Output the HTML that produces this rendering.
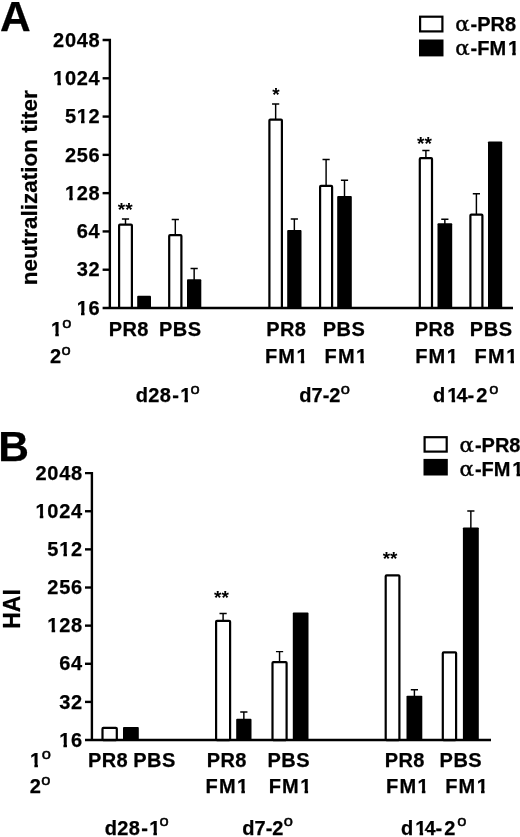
<!DOCTYPE html>
<html><head><meta charset="utf-8"><title>Figure</title>
<style>html,body{margin:0;padding:0;background:#fff}svg{display:block}</style>
</head><body>
<svg width="520" height="837" viewBox="0 0 520 837">
<defs><filter id="soft" x="0" y="0" width="520" height="837" filterUnits="userSpaceOnUse" color-interpolation-filters="sRGB"><feGaussianBlur stdDeviation="0.55"/></filter></defs>
<rect width="520" height="837" fill="#fff"/>
<g filter="url(#soft)">
<rect width="520" height="837" fill="#fff"/>
<text x="0" y="30.8" font-size="42.5" font-family="Liberation Sans, Arial, Helvetica, sans-serif" font-weight="bold" stroke="#000" stroke-width="0.25" stroke-linejoin="round">A</text>
<text transform="translate(36.5 187.8) rotate(-90)" font-size="22.5" text-anchor="middle" font-family="Liberation Sans, Arial, Helvetica, sans-serif" font-weight="bold" stroke="#000" stroke-width="0.25" stroke-linejoin="round">neutralization titer</text>
<text x="53.11" y="46.7" font-size="20" dx="0 0.7 0.7 0.7" font-family="Liberation Sans, Arial, Helvetica, sans-serif" font-weight="bold" stroke="#000" stroke-width="0.25" stroke-linejoin="round">2048</text>
<text x="53.11" y="84.99" font-size="20" dx="0 0.7 0.7 0.7" font-family="Liberation Sans, Arial, Helvetica, sans-serif" font-weight="bold" stroke="#000" stroke-width="0.25" stroke-linejoin="round">1024</text>
<rect x="52.61" y="81.25" width="4.77" height="6.04" fill="#fff"/>
<rect x="60.92" y="81.25" width="3.71" height="6.04" fill="#fff"/>
<text x="64.93" y="123.27" font-size="20" dx="0 0.7 0.7" font-family="Liberation Sans, Arial, Helvetica, sans-serif" font-weight="bold" stroke="#000" stroke-width="0.25" stroke-linejoin="round">512</text>
<rect x="76.25" y="119.53" width="4.77" height="6.04" fill="#fff"/>
<rect x="84.57" y="119.53" width="3.71" height="6.04" fill="#fff"/>
<text x="64.93" y="161.56" font-size="20" dx="0 0.7 0.7" font-family="Liberation Sans, Arial, Helvetica, sans-serif" font-weight="bold" stroke="#000" stroke-width="0.25" stroke-linejoin="round">256</text>
<text x="64.93" y="199.84" font-size="20" dx="0 0.7 0.7" font-family="Liberation Sans, Arial, Helvetica, sans-serif" font-weight="bold" stroke="#000" stroke-width="0.25" stroke-linejoin="round">128</text>
<rect x="64.43" y="196.10" width="4.77" height="6.04" fill="#fff"/>
<rect x="72.74" y="196.10" width="3.71" height="6.04" fill="#fff"/>
<text x="76.75" y="238.13" font-size="20" dx="0 0.7" font-family="Liberation Sans, Arial, Helvetica, sans-serif" font-weight="bold" stroke="#000" stroke-width="0.25" stroke-linejoin="round">64</text>
<text x="76.75" y="276.41" font-size="20" dx="0 0.7" font-family="Liberation Sans, Arial, Helvetica, sans-serif" font-weight="bold" stroke="#000" stroke-width="0.25" stroke-linejoin="round">32</text>
<text x="76.75" y="314.7" font-size="20" dx="0 0.7" font-family="Liberation Sans, Arial, Helvetica, sans-serif" font-weight="bold" stroke="#000" stroke-width="0.25" stroke-linejoin="round">16</text>
<rect x="76.25" y="310.96" width="4.77" height="6.04" fill="#fff"/>
<rect x="84.57" y="310.96" width="3.71" height="6.04" fill="#fff"/>
<path d="M125.5 224.5V219M121.9 219H129.1" stroke="#000" stroke-width="1.45" fill="none"/>
<rect x="119.1" y="224.6" width="12.80" height="83.40" rx="0.9" fill="#fff" stroke="#000" stroke-width="2.2" stroke-linejoin="round"/>
<rect x="137.2" y="295.8" width="13.80" height="12.20" rx="0.9" fill="#000"/>
<path d="M175.3 235V219.5M171.70000000000002 219.5H178.9" stroke="#000" stroke-width="1.45" fill="none"/>
<rect x="169.2" y="235.1" width="12.20" height="72.90" rx="0.9" fill="#fff" stroke="#000" stroke-width="2.2" stroke-linejoin="round"/>
<path d="M194.15 280.3V268.4M190.55 268.4H197.75" stroke="#000" stroke-width="1.45" fill="none"/>
<rect x="187" y="279.3" width="14.30" height="28.70" rx="0.9" fill="#000"/>
<path d="M275.65 119.6V103.9M272.04999999999995 103.9H279.25" stroke="#000" stroke-width="1.45" fill="none"/>
<rect x="269.40000000000003" y="119.69999999999999" width="12.50" height="188.30" rx="0.9" fill="#fff" stroke="#000" stroke-width="2.2" stroke-linejoin="round"/>
<path d="M294.35 231V219M290.75 219H297.95000000000005" stroke="#000" stroke-width="1.45" fill="none"/>
<rect x="287.2" y="230" width="14.30" height="78.00" rx="0.9" fill="#000"/>
<path d="M326.1 185.8V159.5M322.5 159.5H329.70000000000005" stroke="#000" stroke-width="1.45" fill="none"/>
<rect x="320.1" y="185.9" width="12.00" height="122.10" rx="0.9" fill="#fff" stroke="#000" stroke-width="2.2" stroke-linejoin="round"/>
<path d="M344.5 197V180.3M340.9 180.3H348.1" stroke="#000" stroke-width="1.45" fill="none"/>
<rect x="337.2" y="196" width="14.60" height="112.00" rx="0.9" fill="#000"/>
<path d="M425.9 158.0V150.4M422.29999999999995 150.4H429.5" stroke="#000" stroke-width="1.45" fill="none"/>
<rect x="419.8" y="158.1" width="12.20" height="149.90" rx="0.9" fill="#fff" stroke="#000" stroke-width="2.2" stroke-linejoin="round"/>
<path d="M444.85 224.3V219.2M441.25 219.2H448.45000000000005" stroke="#000" stroke-width="1.45" fill="none"/>
<rect x="437.5" y="223.3" width="14.70" height="84.70" rx="0.9" fill="#000"/>
<path d="M476.4 214.6V193.8M472.79999999999995 193.8H480.0" stroke="#000" stroke-width="1.45" fill="none"/>
<rect x="470.40000000000003" y="214.7" width="12.00" height="93.30" rx="0.9" fill="#fff" stroke="#000" stroke-width="2.2" stroke-linejoin="round"/>
<rect x="488" y="141.4" width="14.20" height="166.60" rx="0.9" fill="#000"/>
<path d="M102.6 40H109.85V308" fill="none" stroke="#000" stroke-width="2.4" stroke-linejoin="miter"/>
<path d="M102.6 308H513" fill="none" stroke="#000" stroke-width="2.4"/>
<path d="M102.6 78.29H109.85" stroke="#000" stroke-width="2.4"/>
<path d="M102.6 116.57H109.85" stroke="#000" stroke-width="2.4"/>
<path d="M102.6 154.86H109.85" stroke="#000" stroke-width="2.4"/>
<path d="M102.6 193.14H109.85" stroke="#000" stroke-width="2.4"/>
<path d="M102.6 231.43H109.85" stroke="#000" stroke-width="2.4"/>
<path d="M102.6 269.71H109.85" stroke="#000" stroke-width="2.4"/>
<text x="125.2" y="216.0" font-size="19" text-anchor="middle" font-family="Liberation Sans, Arial, Helvetica, sans-serif" font-weight="bold">**</text>
<text x="276" y="101.3" font-size="19" text-anchor="middle" font-family="Liberation Sans, Arial, Helvetica, sans-serif" font-weight="bold">*</text>
<text x="424.4" y="149.6" font-size="19" text-anchor="middle" font-family="Liberation Sans, Arial, Helvetica, sans-serif" font-weight="bold">**</text>
<rect x="420.1" y="16.7" width="22.30" height="14.70" fill="#fff" stroke="#000" stroke-width="2.2"/>
<rect x="419" y="39.5" width="24.50" height="16.90" fill="#000"/>
<text x="455.3" y="31.2" font-size="20" font-family="DejaVu Serif, DejaVu Sans, Liberation Sans, Arial, Helvetica, sans-serif" stroke="#000" stroke-width="0.4" transform="translate(455.3 0) scale(1.07 1) translate(-455.3 0)">α</text>
<text x="470.60" y="31.2" font-size="20" font-family="Liberation Sans, Arial, Helvetica, sans-serif" font-weight="bold" stroke="#000" stroke-width="0.25" stroke-linejoin="round">-PR8</text>
<text x="455.3" y="55.0" font-size="20" font-family="DejaVu Serif, DejaVu Sans, Liberation Sans, Arial, Helvetica, sans-serif" stroke="#000" stroke-width="0.4" transform="translate(455.3 0) scale(1.07 1) translate(-455.3 0)">α</text>
<text x="470.60" y="55.0" font-size="20" dx="0 0 0 1.8" font-family="Liberation Sans, Arial, Helvetica, sans-serif" font-weight="bold" stroke="#000" stroke-width="0.25" stroke-linejoin="round">-FM1</text>
<rect x="507.44" y="51.26" width="4.77" height="6.04" fill="#fff"/>
<rect x="515.75" y="51.26" width="3.71" height="6.04" fill="#fff"/>
<text x="50.00" y="336" font-size="20" dx="1" font-family="Liberation Sans, Arial, Helvetica, sans-serif" font-weight="bold" stroke="#000" stroke-width="0.25" stroke-linejoin="round">1</text>
<rect x="50.50" y="332.26" width="4.77" height="6.04" fill="#fff"/>
<rect x="58.81" y="332.26" width="3.71" height="6.04" fill="#fff"/>
<text transform="translate(62.17 328.10) scale(1.1 1)" font-size="15.0" font-family="Liberation Sans, Arial, Helvetica, sans-serif" stroke="#000" stroke-width="0.5" stroke-linejoin="round">o</text>
<text x="50.00" y="363" font-size="20" font-family="Liberation Sans, Arial, Helvetica, sans-serif" font-weight="bold" stroke="#000" stroke-width="0.25" stroke-linejoin="round">2</text>
<text transform="translate(61.47 355.10) scale(1.1 1)" font-size="15.0" font-family="Liberation Sans, Arial, Helvetica, sans-serif" stroke="#000" stroke-width="0.5" stroke-linejoin="round">o</text>
<text x="109.15" y="336" font-size="20" dx="-0.3 0.3 0.3" font-family="Liberation Sans, Arial, Helvetica, sans-serif" font-weight="bold" stroke="#000" stroke-width="0.25" stroke-linejoin="round">PR8</text>
<text x="159.44" y="336" font-size="20" dx="-0.5 0.5 0.5" font-family="Liberation Sans, Arial, Helvetica, sans-serif" font-weight="bold" stroke="#000" stroke-width="0.25" stroke-linejoin="round">PBS</text>
<text x="266.65" y="336" font-size="20" dx="-0.3 0.3 0.3" font-family="Liberation Sans, Arial, Helvetica, sans-serif" font-weight="bold" stroke="#000" stroke-width="0.25" stroke-linejoin="round">PR8</text>
<text x="323.24" y="336" font-size="20" dx="-0.5 0.5 0.5" font-family="Liberation Sans, Arial, Helvetica, sans-serif" font-weight="bold" stroke="#000" stroke-width="0.25" stroke-linejoin="round">PBS</text>
<text x="266.10" y="363" font-size="20" dx="-1.2 1.2 1.5" font-family="Liberation Sans, Arial, Helvetica, sans-serif" font-weight="bold" stroke="#000" stroke-width="0.25" stroke-linejoin="round">FM1</text>
<rect x="295.98" y="359.26" width="4.77" height="6.04" fill="#fff"/>
<rect x="304.29" y="359.26" width="3.71" height="6.04" fill="#fff"/>
<text x="325.70" y="363" font-size="20" dx="-1.2 1.2 1.5" font-family="Liberation Sans, Arial, Helvetica, sans-serif" font-weight="bold" stroke="#000" stroke-width="0.25" stroke-linejoin="round">FM1</text>
<rect x="355.58" y="359.26" width="4.77" height="6.04" fill="#fff"/>
<rect x="363.89" y="359.26" width="3.71" height="6.04" fill="#fff"/>
<text x="415.15" y="336" font-size="20" dx="-0.3 0.3 0.3" font-family="Liberation Sans, Arial, Helvetica, sans-serif" font-weight="bold" stroke="#000" stroke-width="0.25" stroke-linejoin="round">PR8</text>
<text x="470.34" y="336" font-size="20" dx="-0.5 0.5 0.5" font-family="Liberation Sans, Arial, Helvetica, sans-serif" font-weight="bold" stroke="#000" stroke-width="0.25" stroke-linejoin="round">PBS</text>
<text x="416.40" y="363" font-size="20" dx="-1.2 1.2 1.5" font-family="Liberation Sans, Arial, Helvetica, sans-serif" font-weight="bold" stroke="#000" stroke-width="0.25" stroke-linejoin="round">FM1</text>
<rect x="446.28" y="359.26" width="4.77" height="6.04" fill="#fff"/>
<rect x="454.59" y="359.26" width="3.71" height="6.04" fill="#fff"/>
<text x="475.80" y="363" font-size="20" dx="-1.2 1.2 1.5" font-family="Liberation Sans, Arial, Helvetica, sans-serif" font-weight="bold" stroke="#000" stroke-width="0.25" stroke-linejoin="round">FM1</text>
<rect x="505.68" y="359.26" width="4.77" height="6.04" fill="#fff"/>
<rect x="513.99" y="359.26" width="3.71" height="6.04" fill="#fff"/>
<text x="136.20" y="402.3" font-size="20" dx="-0.4 0.2 0.5 1.3 1.2" font-family="Liberation Sans, Arial, Helvetica, sans-serif" font-weight="bold" stroke="#000" stroke-width="0.25" stroke-linejoin="round">d28-1</text>
<rect x="179.62" y="398.56" width="4.77" height="6.04" fill="#fff"/>
<rect x="187.94" y="398.56" width="3.71" height="6.04" fill="#fff"/>
<text transform="translate(190.60 393.50) scale(1.1 1)" font-size="15.0" font-family="Liberation Sans, Arial, Helvetica, sans-serif" stroke="#000" stroke-width="0.5" stroke-linejoin="round">o</text>
<text x="299.30" y="402.3" font-size="20" font-family="Liberation Sans, Arial, Helvetica, sans-serif" font-weight="bold" stroke="#000" stroke-width="0.25" stroke-linejoin="round">d7-2</text>
<text transform="translate(340.77 393.50) scale(1.1 1)" font-size="15.0" font-family="Liberation Sans, Arial, Helvetica, sans-serif" stroke="#000" stroke-width="0.5" stroke-linejoin="round">o</text>
<text x="432.60" y="402.3" font-size="20" dx="0.5 2 -2 0 2" font-family="Liberation Sans, Arial, Helvetica, sans-serif" font-weight="bold" stroke="#000" stroke-width="0.25" stroke-linejoin="round">d14-2</text>
<rect x="446.82" y="398.56" width="4.77" height="6.04" fill="#fff"/>
<rect x="455.13" y="398.56" width="3.71" height="6.04" fill="#fff"/>
<text transform="translate(489.20 393.50) scale(1.1 1)" font-size="15.0" font-family="Liberation Sans, Arial, Helvetica, sans-serif" stroke="#000" stroke-width="0.5" stroke-linejoin="round">o</text>
<text x="-1.8" y="460.8" font-size="42.5" font-family="Liberation Sans, Arial, Helvetica, sans-serif" font-weight="bold" stroke="#000" stroke-width="0.25" stroke-linejoin="round">B</text>
<text transform="translate(19.7 609) rotate(-90)" font-size="23" text-anchor="middle" font-family="Liberation Sans, Arial, Helvetica, sans-serif" font-weight="bold" stroke="#000" stroke-width="0.25" stroke-linejoin="round">HAI</text>
<text x="35.51" y="479.8" font-size="20" dx="0 0.7 0.7 0.7" font-family="Liberation Sans, Arial, Helvetica, sans-serif" font-weight="bold" stroke="#000" stroke-width="0.25" stroke-linejoin="round">2048</text>
<text x="35.51" y="517.94" font-size="20" dx="0 0.7 0.7 0.7" font-family="Liberation Sans, Arial, Helvetica, sans-serif" font-weight="bold" stroke="#000" stroke-width="0.25" stroke-linejoin="round">1024</text>
<rect x="35.01" y="514.20" width="4.77" height="6.04" fill="#fff"/>
<rect x="43.32" y="514.20" width="3.71" height="6.04" fill="#fff"/>
<text x="47.33" y="556.07" font-size="20" dx="0 0.7 0.7" font-family="Liberation Sans, Arial, Helvetica, sans-serif" font-weight="bold" stroke="#000" stroke-width="0.25" stroke-linejoin="round">512</text>
<rect x="58.65" y="552.33" width="4.77" height="6.04" fill="#fff"/>
<rect x="66.97" y="552.33" width="3.71" height="6.04" fill="#fff"/>
<text x="47.33" y="594.21" font-size="20" dx="0 0.7 0.7" font-family="Liberation Sans, Arial, Helvetica, sans-serif" font-weight="bold" stroke="#000" stroke-width="0.25" stroke-linejoin="round">256</text>
<text x="47.33" y="632.34" font-size="20" dx="0 0.7 0.7" font-family="Liberation Sans, Arial, Helvetica, sans-serif" font-weight="bold" stroke="#000" stroke-width="0.25" stroke-linejoin="round">128</text>
<rect x="46.83" y="628.60" width="4.77" height="6.04" fill="#fff"/>
<rect x="55.14" y="628.60" width="3.71" height="6.04" fill="#fff"/>
<text x="59.15" y="670.48" font-size="20" dx="0 0.7" font-family="Liberation Sans, Arial, Helvetica, sans-serif" font-weight="bold" stroke="#000" stroke-width="0.25" stroke-linejoin="round">64</text>
<text x="59.15" y="708.61" font-size="20" dx="0 0.7" font-family="Liberation Sans, Arial, Helvetica, sans-serif" font-weight="bold" stroke="#000" stroke-width="0.25" stroke-linejoin="round">32</text>
<text x="59.15" y="746.75" font-size="20" dx="0 0.7" font-family="Liberation Sans, Arial, Helvetica, sans-serif" font-weight="bold" stroke="#000" stroke-width="0.25" stroke-linejoin="round">16</text>
<rect x="58.65" y="743.01" width="4.77" height="6.04" fill="#fff"/>
<rect x="66.97" y="743.01" width="3.71" height="6.04" fill="#fff"/>
<rect x="102.5" y="727.9" width="14.30" height="12.15" rx="0.9" fill="#fff" stroke="#000" stroke-width="2.2" stroke-linejoin="round"/>
<rect x="123" y="727.1" width="15.80" height="12.95" rx="0.9" fill="#000"/>
<path d="M223.1 620.7V613.5M219.5 613.5H226.7" stroke="#000" stroke-width="1.45" fill="none"/>
<rect x="216.1" y="620.8000000000001" width="14.00" height="119.25" rx="0.9" fill="#fff" stroke="#000" stroke-width="2.2" stroke-linejoin="round"/>
<path d="M243.85 719.8V711.9M240.25 711.9H247.45" stroke="#000" stroke-width="1.45" fill="none"/>
<rect x="236.2" y="718.8" width="15.30" height="21.25" rx="0.9" fill="#000"/>
<path d="M279.54999999999995 662V651.6M275.94999999999993 651.6H283.15" stroke="#000" stroke-width="1.45" fill="none"/>
<rect x="272.5" y="662.1" width="14.10" height="77.95" rx="0.9" fill="#fff" stroke="#000" stroke-width="2.2" stroke-linejoin="round"/>
<rect x="292.8" y="612.6" width="15.70" height="127.45" rx="0.9" fill="#000"/>
<rect x="385.70000000000005" y="575.3000000000001" width="13.70" height="164.75" rx="0.9" fill="#fff" stroke="#000" stroke-width="2.2" stroke-linejoin="round"/>
<path d="M414.4 696.7V689.7M410.79999999999995 689.7H418.0" stroke="#000" stroke-width="1.45" fill="none"/>
<rect x="406.5" y="695.7" width="15.80" height="44.35" rx="0.9" fill="#000"/>
<rect x="442.8" y="652.4" width="13.30" height="87.65" rx="0.9" fill="#fff" stroke="#000" stroke-width="2.2" stroke-linejoin="round"/>
<path d="M470.85 528.4V510.9M467.25 510.9H474.45000000000005" stroke="#000" stroke-width="1.45" fill="none"/>
<rect x="462.9" y="527.4" width="15.90" height="212.65" rx="0.9" fill="#000"/>
<path d="M85.0 473.1H91.9V740.05" fill="none" stroke="#000" stroke-width="2.4" stroke-linejoin="miter"/>
<path d="M85.0 740.05H491" fill="none" stroke="#000" stroke-width="2.4"/>
<path d="M85.0 511.24H91.9" stroke="#000" stroke-width="2.4"/>
<path d="M85.0 549.37H91.9" stroke="#000" stroke-width="2.4"/>
<path d="M85.0 587.51H91.9" stroke="#000" stroke-width="2.4"/>
<path d="M85.0 625.64H91.9" stroke="#000" stroke-width="2.4"/>
<path d="M85.0 663.78H91.9" stroke="#000" stroke-width="2.4"/>
<path d="M85.0 701.91H91.9" stroke="#000" stroke-width="2.4"/>
<text x="221.4" y="603.9" font-size="19" text-anchor="middle" font-family="Liberation Sans, Arial, Helvetica, sans-serif" font-weight="bold">**</text>
<text x="390.1" y="564.6" font-size="19" text-anchor="middle" font-family="Liberation Sans, Arial, Helvetica, sans-serif" font-weight="bold">**</text>
<rect x="424.6" y="437.20000000000005" width="22.10" height="14.40" fill="#fff" stroke="#000" stroke-width="2.2"/>
<rect x="423.5" y="458.9" width="24.30" height="16.60" fill="#000"/>
<text x="459.6" y="452.4" font-size="20" font-family="DejaVu Serif, DejaVu Sans, Liberation Sans, Arial, Helvetica, sans-serif" stroke="#000" stroke-width="0.4" transform="translate(459.6 0) scale(1.07 1) translate(-459.6 0)">α</text>
<text x="474.90" y="452.4" font-size="20" font-family="Liberation Sans, Arial, Helvetica, sans-serif" font-weight="bold" stroke="#000" stroke-width="0.25" stroke-linejoin="round">-PR8</text>
<text x="459.6" y="475.6" font-size="20" font-family="DejaVu Serif, DejaVu Sans, Liberation Sans, Arial, Helvetica, sans-serif" stroke="#000" stroke-width="0.4" transform="translate(459.6 0) scale(1.07 1) translate(-459.6 0)">α</text>
<text x="474.90" y="475.6" font-size="20" dx="0 0 0 1.8" font-family="Liberation Sans, Arial, Helvetica, sans-serif" font-weight="bold" stroke="#000" stroke-width="0.25" stroke-linejoin="round">-FM1</text>
<rect x="511.74" y="471.86" width="4.77" height="6.04" fill="#fff"/>
<rect x="520.05" y="471.86" width="3.71" height="6.04" fill="#fff"/>
<text x="29.80" y="766.6" font-size="20" dx="0.3" font-family="Liberation Sans, Arial, Helvetica, sans-serif" font-weight="bold" stroke="#000" stroke-width="0.25" stroke-linejoin="round">1</text>
<rect x="29.60" y="762.86" width="4.77" height="6.04" fill="#fff"/>
<rect x="37.91" y="762.86" width="3.71" height="6.04" fill="#fff"/>
<text transform="translate(41.77 758.70) scale(1.1 1)" font-size="15.0" font-family="Liberation Sans, Arial, Helvetica, sans-serif" stroke="#000" stroke-width="0.5" stroke-linejoin="round">o</text>
<text x="29.80" y="792.8" font-size="20" font-family="Liberation Sans, Arial, Helvetica, sans-serif" font-weight="bold" stroke="#000" stroke-width="0.25" stroke-linejoin="round">2</text>
<text transform="translate(41.27 784.90) scale(1.1 1)" font-size="15.0" font-family="Liberation Sans, Arial, Helvetica, sans-serif" stroke="#000" stroke-width="0.5" stroke-linejoin="round">o</text>
<text x="88.35" y="766.6" font-size="20" dx="-0.3 0.3 0.3" font-family="Liberation Sans, Arial, Helvetica, sans-serif" font-weight="bold" stroke="#000" stroke-width="0.25" stroke-linejoin="round">PR8</text>
<text x="133.64" y="766.6" font-size="20" dx="-0.5 0.5 0.5" font-family="Liberation Sans, Arial, Helvetica, sans-serif" font-weight="bold" stroke="#000" stroke-width="0.25" stroke-linejoin="round">PBS</text>
<text x="207.05" y="766.6" font-size="20" dx="-0.3 0.3 0.3" font-family="Liberation Sans, Arial, Helvetica, sans-serif" font-weight="bold" stroke="#000" stroke-width="0.25" stroke-linejoin="round">PR8</text>
<text x="267.94" y="766.6" font-size="20" dx="-0.5 0.5 0.5" font-family="Liberation Sans, Arial, Helvetica, sans-serif" font-weight="bold" stroke="#000" stroke-width="0.25" stroke-linejoin="round">PBS</text>
<text x="206.70" y="792.8" font-size="20" dx="-1.2 1.2 1.5" font-family="Liberation Sans, Arial, Helvetica, sans-serif" font-weight="bold" stroke="#000" stroke-width="0.25" stroke-linejoin="round">FM1</text>
<rect x="236.58" y="789.06" width="4.77" height="6.04" fill="#fff"/>
<rect x="244.89" y="789.06" width="3.71" height="6.04" fill="#fff"/>
<text x="269.90" y="792.8" font-size="20" dx="-1.2 1.2 1.5" font-family="Liberation Sans, Arial, Helvetica, sans-serif" font-weight="bold" stroke="#000" stroke-width="0.25" stroke-linejoin="round">FM1</text>
<rect x="299.78" y="789.06" width="4.77" height="6.04" fill="#fff"/>
<rect x="308.09" y="789.06" width="3.71" height="6.04" fill="#fff"/>
<text x="385.15" y="766.6" font-size="20" dx="-0.3 0.3 0.3" font-family="Liberation Sans, Arial, Helvetica, sans-serif" font-weight="bold" stroke="#000" stroke-width="0.25" stroke-linejoin="round">PR8</text>
<text x="440.04" y="766.6" font-size="20" dx="-0.5 0.5 0.5" font-family="Liberation Sans, Arial, Helvetica, sans-serif" font-weight="bold" stroke="#000" stroke-width="0.25" stroke-linejoin="round">PBS</text>
<text x="387.20" y="792.8" font-size="20" dx="-1.2 1.2 1.5" font-family="Liberation Sans, Arial, Helvetica, sans-serif" font-weight="bold" stroke="#000" stroke-width="0.25" stroke-linejoin="round">FM1</text>
<rect x="417.08" y="789.06" width="4.77" height="6.04" fill="#fff"/>
<rect x="425.39" y="789.06" width="3.71" height="6.04" fill="#fff"/>
<text x="446.40" y="792.8" font-size="20" dx="-1.2 1.2 1.5" font-family="Liberation Sans, Arial, Helvetica, sans-serif" font-weight="bold" stroke="#000" stroke-width="0.25" stroke-linejoin="round">FM1</text>
<rect x="476.28" y="789.06" width="4.77" height="6.04" fill="#fff"/>
<rect x="484.59" y="789.06" width="3.71" height="6.04" fill="#fff"/>
<text x="105.20" y="834.6" font-size="20" dx="-0.4 0.2 0.5 1.3 1.2" font-family="Liberation Sans, Arial, Helvetica, sans-serif" font-weight="bold" stroke="#000" stroke-width="0.25" stroke-linejoin="round">d28-1</text>
<rect x="148.62" y="830.86" width="4.77" height="6.04" fill="#fff"/>
<rect x="156.94" y="830.86" width="3.71" height="6.04" fill="#fff"/>
<text transform="translate(159.60 825.80) scale(1.1 1)" font-size="15.0" font-family="Liberation Sans, Arial, Helvetica, sans-serif" stroke="#000" stroke-width="0.5" stroke-linejoin="round">o</text>
<text x="242.30" y="834.6" font-size="20" font-family="Liberation Sans, Arial, Helvetica, sans-serif" font-weight="bold" stroke="#000" stroke-width="0.25" stroke-linejoin="round">d7-2</text>
<text transform="translate(283.77 825.80) scale(1.1 1)" font-size="15.0" font-family="Liberation Sans, Arial, Helvetica, sans-serif" stroke="#000" stroke-width="0.5" stroke-linejoin="round">o</text>
<text x="400.60" y="834.6" font-size="20" dx="0.5 2 -2 0 2" font-family="Liberation Sans, Arial, Helvetica, sans-serif" font-weight="bold" stroke="#000" stroke-width="0.25" stroke-linejoin="round">d14-2</text>
<rect x="414.82" y="830.86" width="4.77" height="6.04" fill="#fff"/>
<rect x="423.13" y="830.86" width="3.71" height="6.04" fill="#fff"/>
<text transform="translate(457.20 825.80) scale(1.1 1)" font-size="15.0" font-family="Liberation Sans, Arial, Helvetica, sans-serif" stroke="#000" stroke-width="0.5" stroke-linejoin="round">o</text>
</g>
</svg>
</body></html>
